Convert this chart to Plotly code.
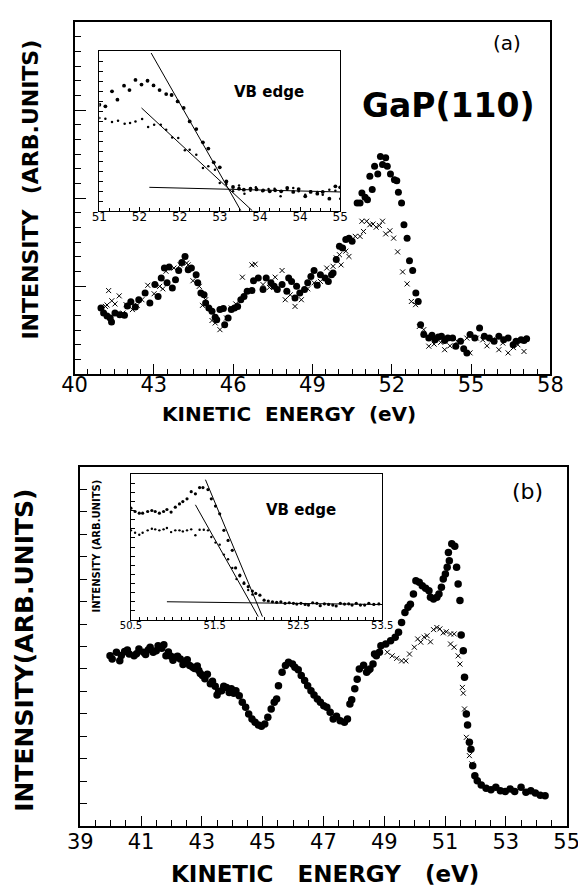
import plotly.graph_objects as go

# ---------------- data: panel (a) main ----------------
a_dot_e = [41.0, 41.1, 41.23, 41.35, 41.4, 41.53, 41.71, 41.89, 42.0, 42.13, 42.3, 42.43, 42.67, 42.85,
           43.04, 43.16, 43.28, 43.4, 43.5, 43.58, 43.7, 43.82, 43.94, 44.06, 44.18, 44.3, 44.42, 44.6,
           44.66, 44.78, 44.9, 44.96, 45.08, 45.2, 45.32, 45.38, 45.5, 45.63, 45.68, 45.81, 45.93, 46.05,
           46.17, 46.29, 46.41, 46.53, 46.71, 46.77, 46.95, 47.13, 47.25, 47.43, 47.55, 47.67, 47.85, 48.03,
           48.1, 48.21, 48.34, 48.4, 48.52, 48.7, 48.82, 48.94, 49.06, 49.18, 49.3, 49.48, 49.6, 49.72,
           49.78, 49.9, 50.02, 50.14, 50.26, 50.38, 50.5, 50.69, 50.8, 50.87, 50.99, 51.08, 51.17, 51.26,
           51.35, 51.47, 51.57, 51.65, 51.77, 51.83, 51.95, 52.1, 52.19, 52.25, 52.37, 52.46, 52.58, 52.67,
           52.79, 52.91, 53.0, 53.09, 53.21, 53.4, 53.52, 53.64, 53.76, 53.88, 54.0, 54.12, 54.3, 54.42,
           54.6, 54.72, 54.84, 54.96, 55.14, 55.32, 55.5, 55.69, 55.87, 56.05, 56.23, 56.4, 56.59, 56.7,
           56.89, 57.0, 57.1]
a_dot_i = [18.75, 17.3, 16.5, 15.9, 14.8, 17.3, 16.8, 16.7, 19.3, 20.5, 19.0, 21.1, 23.0, 20.2,
           25.4, 22.0, 27.3, 30.1, 25.9, 30.4, 24.4, 26.8, 29.4, 31.7, 33.4, 29.6, 30.1, 28.2,
           25.9, 23.0, 22.5, 20.2, 18.75, 17.8, 16.1, 15.4, 18.3, 18.6, 14.0, 15.9, 18.3, 18.75,
           19.2, 21.1, 22.0, 23.5, 23.7, 26.5, 27.3, 24.0, 27.3, 25.9, 24.9, 24.0, 25.4, 23.5,
           27.3, 26.3, 21.6, 24.9, 23.0, 24.0, 25.9, 27.7, 29.4, 25.2, 28.2, 27.3, 26.3, 28.2,
           28.7, 32.5, 36.3, 35.8, 38.2, 38.6, 37.7, 48.6, 48.6, 51.4, 50.2, 49.5, 56.2, 52.4,
           59.0, 56.8, 61.8, 59.5, 61.4, 59.0, 56.8, 55.2, 54.9, 51.6, 48.6, 42.4, 38.6, 32.2,
           29.4, 23.0, 20.6, 14.0, 11.2, 10.2, 11.0, 9.7, 10.5, 10.7, 9.5, 10.2, 10.2, 7.9,
           9.3, 7.2, 6.0, 11.2, 10.2, 13.1, 10.7, 10.2, 9.3, 10.7, 9.7, 10.2, 8.3, 9.3,
           9.7, 9.5, 10.0]

a_x_e = [41.17, 41.23, 41.29, 41.41, 41.53, 41.69, 41.83, 41.95, 42.19, 42.37, 42.55, 42.77, 43.01,
         43.22, 43.34, 43.46, 43.76, 44.0, 44.24, 44.3, 44.48, 44.72, 44.84, 44.96, 45.2, 45.32, 45.5,
         45.75, 45.93, 46.1, 46.35, 46.71, 46.83, 47.13, 47.37, 47.59, 47.85, 47.97, 48.16, 48.34,
         48.58, 48.82, 49.06, 49.3, 49.54, 49.78, 49.9, 50.02, 50.08, 50.26, 50.38, 50.62, 50.8, 50.93,
         50.87, 51.05, 51.17, 51.29, 51.41, 51.53, 51.65, 51.77, 51.93, 52.07, 52.22, 52.41, 52.58,
         52.74, 52.9, 53.04, 53.21, 53.4, 53.6, 53.85, 54.0, 54.2, 54.48, 54.84, 54.96, 55.2, 55.44,
         55.6, 55.8, 56.05, 56.2, 56.4, 56.6, 56.77, 57.0]
a_x_i = [19.2, 19.6, 23.7, 20.8, 19.9, 22.2, 17.3, 19.7, 18.3, 19.5, 21.1, 25.2, 22.8,
         24.9, 24.2, 29.2, 30.1, 31.0, 31.5, 31.0, 26.5, 24.9, 19.5, 21.1, 15.2, 14.5, 12.6,
         15.9, 18.75, 19.9, 27.5, 31.0, 31.2, 25.4, 24.6, 27.5, 29.4, 21.1, 22.5, 19.2,
         21.1, 24.2, 25.9, 26.3, 30.1, 30.6, 33.0, 33.9, 31.0, 34.9, 33.4, 39.1, 39.1, 40.5,
         43.4, 43.4, 42.4, 42.6, 41.7, 42.2, 43.4, 39.8, 40.7, 38.6, 34.7, 29.0, 25.6,
         20.6, 19.7, 13.5, 12.6, 7.9, 8.5, 9.0, 6.9, 8.0, 9.3, 10.2, 6.0, 10.2, 9.7,
         8.0, 9.7, 6.9, 8.8, 6.0, 7.5, 8.3, 6.4]

# ---------------- data: panel (a) inset ----------------
ai_big_e = [51.0, 51.1, 51.21, 51.3, 51.41, 51.5, 51.6, 51.7, 51.8, 51.9, 52.0, 52.11, 52.2, 52.3,
            52.4, 52.5, 52.61, 52.72, 52.81, 52.9, 53.0, 53.11, 53.22, 53.32, 53.4, 53.51, 53.61,
            53.72, 53.83, 53.92, 54.02, 54.12, 54.22, 54.31, 54.42, 54.51, 54.62, 54.71, 54.82,
            54.92, 55.0]
ai_big_i = [66.4, 65.4, 74.8, 69.6, 78.3, 75.6, 81.9, 79.0, 81.4, 78.5, 75.6, 73.1, 72.5, 68.5,
            64.4, 56.0, 51.2, 42.9, 39.0, 30.4, 27.3, 18.5, 15.0, 13.9, 13.3, 13.9, 13.5,
            12.9, 12.3, 12.9, 12.3, 14.4, 11.9, 13.7, 9.2, 11.9, 10.8, 11.9, 7.7,
            15.4, 14.8]
ai_small_e = [51.0, 51.1, 51.21, 51.31, 51.42, 51.51, 51.6, 51.71, 51.81, 51.91, 52.02, 52.11, 52.21,
              52.31, 52.42, 52.5, 52.61, 52.72, 52.81, 52.92, 53.0, 53.11, 53.22, 53.32, 53.41,
              53.51, 53.6, 53.71, 53.81, 53.91, 54.01, 54.12, 54.22, 54.31, 54.42, 54.51, 54.62,
              54.71, 54.82, 54.92, 55.0]
ai_small_i = [58.1, 57.7, 55.6, 56.4, 54.6, 55.0, 56.0, 57.5, 52.5, 53.9, 53.9, 50.8, 46.0,
              45.6, 37.9, 38.3, 35.2, 26.9, 27.9, 25.8, 17.5, 16.9, 12.3, 16.0, 10.8,
              12.7, 14.8, 12.3, 13.7, 13.9, 9.2, 13.3, 14.4, 12.3, 10.2, 12.3, 11.9,
              10.2, 13.3, 12.7, 7.7]
ai_fit_steep_e = [51.86, 53.35]
ai_fit_steep_i = [98.75, 0.2]
ai_fit_shallow_e = [51.7, 53.54]
ai_fit_shallow_i = [64.4, 0.2]
ai_fit_base_e = [51.83, 55.0]
ai_fit_base_i = [14.8, 11.9]

# ---------------- data: panel (b) main ----------------
b_dot_e = [39.98, 40.05, 40.19, 40.3, 40.35, 40.46, 40.55, 40.61, 40.77, 40.85, 40.93, 41.08, 41.15,
           41.24, 41.3, 41.4, 41.5, 41.56, 41.68, 41.75, 41.82, 41.9, 41.98, 42.05, 42.13, 42.2,
           42.29, 42.38, 42.45, 42.52, 42.6, 42.7, 42.76, 42.85, 42.9, 42.95, 43.02, 43.1, 43.18,
           43.28, 43.35, 43.44, 43.5, 43.55, 43.65, 43.72, 43.81, 43.9, 43.97, 44.05, 44.12, 44.23,
           44.33, 44.44, 44.54, 44.65, 44.75, 44.86, 44.96, 45.07, 45.17, 45.28, 45.38, 45.46,
           45.52, 45.64, 45.75, 45.85, 45.98, 46.06, 46.17, 46.27, 46.38, 46.48, 46.59, 46.69,
           46.8, 46.9, 47.01, 47.11, 47.22, 47.32, 47.43, 47.55, 47.69, 47.79, 47.87, 47.93,
           48.03, 48.11, 48.18, 48.32, 48.42, 48.47, 48.53, 48.63, 48.68, 48.74, 48.84, 48.89,
           49.05, 49.21, 49.36, 49.47, 49.57, 49.68, 49.78, 49.86, 49.96, 50.04, 50.15, 50.25,
           50.36, 50.47, 50.52, 50.62, 50.73, 50.8, 50.88, 50.94, 51.01, 51.07, 51.14, 51.11,
           51.22, 51.32, 51.38, 51.43, 51.49, 51.53, 51.6, 51.64, 51.7, 51.74, 51.8, 51.85,
           51.91, 51.98, 52.06, 52.19, 52.35, 52.51, 52.67, 52.82, 52.98, 53.14, 53.29, 53.5,
           53.66, 53.82, 53.97, 54.13, 54.29]
b_dot_i = [47.4, 46.5, 48.4, 46.0, 47.5, 48.6, 49.0, 47.9, 47.4, 48.0, 49.3, 48.4, 47.8,
           49.1, 49.8, 48.4, 48.8, 50.2, 49.5, 50.5, 47.4, 48.5, 47.3, 46.2, 47.0, 47.3,
           46.5, 45.0, 45.6, 46.3, 44.7, 44.2, 43.9, 44.6, 43.3, 42.5, 41.9, 41.0, 42.3,
           39.6, 40.3, 38.9, 36.5, 37.5, 37.7, 38.9, 38.6, 37.2, 38.2, 37.0, 37.7, 36.3,
           34.5, 33.1, 31.2, 29.8, 28.9, 28.1, 27.8, 28.4, 30.3, 32.6, 34.5, 35.4,
           39.1, 42.8, 44.7, 45.6, 45.1, 44.2, 43.5, 41.9, 40.5, 39.1, 37.7, 36.5,
           35.4, 34.5, 33.5, 33.1, 31.7, 29.8, 30.6, 29.3, 28.9, 29.8, 34.0, 35.2,
           38.2, 40.9, 43.7, 44.8, 42.8, 43.3, 43.7, 45.1, 47.9, 47.4, 48.4, 50.2,
           50.7, 51.6, 52.6, 54.0, 56.7, 59.5, 60.9, 61.8, 64.6, 68.3, 67.9, 66.9,
           66.2, 65.5, 63.7, 63.2, 63.7, 64.6, 66.5, 68.8, 70.2, 72.1, 73.9, 76.2,
           78.6, 77.9, 72.1, 67.4, 62.8, 53.2, 48.8, 41.4, 31.2, 28.1, 23.3, 21.4,
           16.8, 14.0, 12.6, 11.4, 10.5, 10.1, 10.8, 9.8, 9.6, 10.3, 9.6, 10.8,
           9.4, 9.8, 9.2, 8.6, 8.4]
b_x_e = [49.1, 49.26, 49.41, 49.57, 49.71, 49.83, 49.99, 50.1, 50.2, 50.31, 50.41, 50.52, 50.62,
         50.73, 50.83, 50.94, 51.04, 51.18, 51.3, 51.18, 51.3, 51.43, 51.49, 51.57, 51.6, 51.64,
         51.7, 51.8, 51.88]
b_x_i = [48.4, 47.4, 46.7, 46.0, 46.0, 47.9, 49.8, 52.1, 51.2, 52.6, 53.0, 51.3, 54.7,
         55.3, 54.9, 53.8, 54.1, 53.5, 53.5, 50.7, 49.8, 47.4, 45.1, 38.6, 37.0, 32.6,
         24.7, 19.6, 17.3]

# ---------------- data: panel (b) inset ----------------
bi_big_e = [50.5, 50.55, 50.6, 50.64, 50.7, 50.75, 50.79, 50.84, 50.89, 50.93, 50.98, 51.03, 51.08,
            51.12, 51.17, 51.22, 51.27, 51.32, 51.36, 51.42, 51.46, 51.51, 51.56, 51.61, 51.66,
            51.71, 51.75, 51.8, 51.85, 51.9, 51.95, 51.99, 52.04, 52.09, 52.14, 52.19, 52.24,
            52.29, 52.34, 52.39, 52.44, 52.48, 52.53, 52.58, 52.62, 52.67, 52.72, 52.76, 52.81,
            52.86, 52.91, 52.95, 53.0, 53.05, 53.1, 53.14, 53.19, 53.24, 53.29, 53.34, 53.4, 53.46]
bi_big_i = [76.6, 74.3, 73.2, 73.2, 74.3, 75.0, 74.3, 73.2, 74.3, 75.7, 73.9, 77.3, 79.5,
            81.1, 83.0, 87.9, 86.4, 90.7, 90.7, 89.3, 83.0, 78.0, 72.7, 61.4, 54.5,
            47.7, 35.7, 30.7, 25.0, 22.8, 19.8, 18.2, 17.0, 13.6, 13.0, 12.5, 12.1,
            12.5, 11.4, 11.8, 11.4, 10.9, 11.4, 10.7, 10.2, 11.8, 11.4, 9.8, 11.1,
            10.7, 10.2, 9.6, 11.4, 10.9, 11.1, 10.2, 11.4, 10.2, 10.2, 11.4, 10.7, 11.0]
bi_small_e = [50.5, 50.55, 50.6, 50.64, 50.7, 50.75, 50.79, 50.84, 50.89, 50.93, 50.98, 51.03,
              51.08, 51.12, 51.17, 51.22, 51.27, 51.32, 51.37, 51.42, 51.46, 51.51, 51.56,
              51.61, 51.66, 51.71, 51.76, 51.8, 51.85, 51.9, 51.95]
bi_small_i = [61.4, 59.8, 58.4, 59.8, 61.4, 62.5, 62.1, 61.4, 62.1, 63.0, 60.2, 61.4,
              61.4, 60.7, 61.4, 62.1, 58.0, 61.8, 61.8, 61.4, 56.8, 53.0, 51.6,
              44.8, 41.6, 35.7, 28.0, 30.0, 25.7, 20.5, 17.5]
bi_fit_steep_e = [51.39, 52.07]
bi_fit_steep_i = [96.1, 2.3]
bi_fit_shallow_e = [51.27, 52.02]
bi_fit_shallow_i = [78.9, 2.3]
bi_fit_base_e = [50.93, 53.5]
bi_fit_base_i = [12.5, 10.6]

# ---------------- tick labels ----------------
a_xtick_vals = [40, 43, 46, 49, 52, 55, 58]
a_xtick_text = ["40", "43", "46", "49", "52", "55", "58"]
ai_xtick_vals = [51, 51 + 2 / 3, 51 + 4 / 3, 53, 53 + 2 / 3, 54 + 1 / 3, 55]
ai_xtick_text = ["51", "52", "52", "53", "54", "54", "55"]
b_xtick_vals = [39, 41, 43, 45, 47, 49, 51, 53, 55]
b_xtick_text = ["39", "41", "43", "45", "47", "49", "51", "53", "55"]
bi_xtick_vals = [50.5, 51.5, 52.5, 53.5]
bi_xtick_text = ["50.5", "51.5", "52.5", "53.5"]

# ---------------- figure ----------------
W, H = 586, 886


def dx(a, b):
    return [a / W, b / W]


def dy(top, bottom):
    return [1 - bottom / H, 1 - top / H]


BLACK = "black"
REG = "DejaVu Sans"
BOLD = "DejaVu Sans"

fig = go.Figure()


def dots(x, y, xa, ya, size):
    fig.add_trace(go.Scatter(x=x, y=y, xaxis=xa, yaxis=ya, mode="markers",
                             marker=dict(symbol="circle", size=size, color=BLACK,
                                         line=dict(width=0)),
                             showlegend=False, hoverinfo="skip"))


def crosses(x, y, xa, ya, size):
    fig.add_trace(go.Scatter(x=x, y=y, xaxis=xa, yaxis=ya, mode="markers",
                             marker=dict(symbol="x-thin", size=size, color=BLACK,
                                         line=dict(width=1, color=BLACK)),
                             showlegend=False, hoverinfo="skip"))


def line(x, y, xa, ya):
    fig.add_trace(go.Scatter(x=x, y=y, xaxis=xa, yaxis=ya, mode="lines",
                             line=dict(color=BLACK, width=1),
                             showlegend=False, hoverinfo="skip"))


# panel (a)
crosses(a_x_e, a_x_i, "x", "y", 5)
dots(a_dot_e, a_dot_i, "x", "y", 7)
# inset (a)
line(ai_fit_steep_e, ai_fit_steep_i, "x2", "y2")
line(ai_fit_shallow_e, ai_fit_shallow_i, "x2", "y2")
line(ai_fit_base_e, ai_fit_base_i, "x2", "y2")
dots(ai_big_e, ai_big_i, "x2", "y2", 3.8)
dots(ai_small_e, ai_small_i, "x2", "y2", 2.5)
# panel (b)
crosses(b_x_e, b_x_i, "x3", "y3", 5)
dots(b_dot_e, b_dot_i, "x3", "y3", 7.5)
# inset (b)
line(bi_fit_steep_e, bi_fit_steep_i, "x4", "y4")
line(bi_fit_shallow_e, bi_fit_shallow_i, "x4", "y4")
line(bi_fit_base_e, bi_fit_base_i, "x4", "y4")
dots(bi_big_e, bi_big_i, "x4", "y4", 3.2)
dots(bi_small_e, bi_small_i, "x4", "y4", 2.4)

common = dict(showgrid=False, zeroline=False, showline=True, linecolor=BLACK, mirror=True,
              ticks="inside", tickcolor=BLACK, fixedrange=True)

fig.update_layout(
    width=W, height=H, margin=dict(l=0, r=0, t=0, b=0),
    paper_bgcolor="white", plot_bgcolor="white",
    xaxis=dict(**common, domain=dx(56, 554), range=[40, 58], anchor="y", linewidth=1.6,
               tickmode="array", tickvals=a_xtick_vals, ticktext=a_xtick_text,
               ticklen=10, tickwidth=1.3,
               minor=dict(ticks="inside", tick0=40, dtick=0.5, ticklen=5, tickcolor=BLACK, tickwidth=1.2),
               tickfont=dict(family=REG, size=21, color=BLACK), ticklabelstandoff=-9),
    yaxis=dict(**common, domain=dy(14, 366), range=[0, 100], anchor="x", linewidth=1.6,
               tick0=0, dtick=25, ticklen=12, tickwidth=1.3, showticklabels=False,
               minor=dict(ticks="inside", tick0=0, dtick=100 / 24, ticklen=7, tickcolor=BLACK, tickwidth=1.2)),
    xaxis2=dict(**common, domain=dx(82, 334), range=[51, 55], anchor="y2", linewidth=1,
                tickmode="array", tickvals=ai_xtick_vals, ticktext=ai_xtick_text,
                ticklen=4, tickwidth=1,
                minor=dict(ticks="inside", tick0=51, dtick=1 / 6, ticklen=3, tickcolor=BLACK),
                tickfont=dict(family=REG, size=12, color=BLACK), ticklabelstandoff=-5),
    yaxis2=dict(**common, domain=dy(43, 203), range=[0, 100], anchor="x2", linewidth=1,
                tick0=0, dtick=6.25, ticklen=4, tickwidth=1, showticklabels=False),
    xaxis3=dict(**common, domain=dx(62, 571), range=[39, 55], anchor="y3", linewidth=1.6,
                tickmode="array", tickvals=b_xtick_vals, ticktext=b_xtick_text,
                ticklen=10, tickwidth=1.3,
                minor=dict(ticks="inside", tick0=39, dtick=0.5, ticklen=6, tickcolor=BLACK, tickwidth=1.2),
                tickfont=dict(family=REG, size=21, color=BLACK), ticklabelstandoff=-4),
    yaxis3=dict(**common, domain=dy(459, 818), range=[0, 100], anchor="x3", linewidth=1.6,
                tick0=0, dtick=6.25, ticklen=7, tickwidth=1.3, showticklabels=False),
    xaxis4=dict(**common, domain=dx(115, 378), range=[50.5, 53.5], anchor="y4", linewidth=1,
                tickmode="array", tickvals=bi_xtick_vals, ticktext=bi_xtick_text,
                ticklen=4, tickwidth=1,
                minor=dict(ticks="inside", tick0=50.5, dtick=0.1, ticklen=3, tickcolor=BLACK),
                tickfont=dict(family=REG, size=10, color=BLACK), ticklabelstandoff=-4),
    yaxis4=dict(**common, domain=dy(466, 612), range=[0, 100], anchor="x4", linewidth=1,
                tick0=0, dtick=6.25, ticklen=4, tickwidth=1, showticklabels=False),
)


def note(text, x, y, size, bold=False, angle=0):
    fig.add_annotation(text=f"<b>{text}</b>" if bold else text, xref="paper", yref="paper",
                       x=x / W, y=1 - y / H, xanchor="center", yanchor="middle",
                       showarrow=False, textangle=angle,
                       font=dict(family=BOLD if bold else REG, size=size, color=BLACK))


note("(a)", 509, 35, 20)
note("GaP(110)", 447, 97, 33, bold=True)
note("VB edge", 260, 84, 15, bold=True)
note("INTENSITY  (ARB.UNITS)", 9, 182, 22, bold=True, angle=-90)
note("KINETIC  ENERGY  (eV)", 280, 406, 20, bold=True)
note("(b)", 530, 483, 22)
note("VB edge", 293, 502, 15, bold=True)
note("INTENSITY (ARB.UNITS)", 78, 538, 10, bold=True, angle=-90)
note("INTENSITY(ARB.UNITS)", 3, 642, 25, bold=True, angle=-90)
note("KINETIC   ENERGY   (eV)", 318, 866, 23, bold=True)

fig.write_html("out.html")
